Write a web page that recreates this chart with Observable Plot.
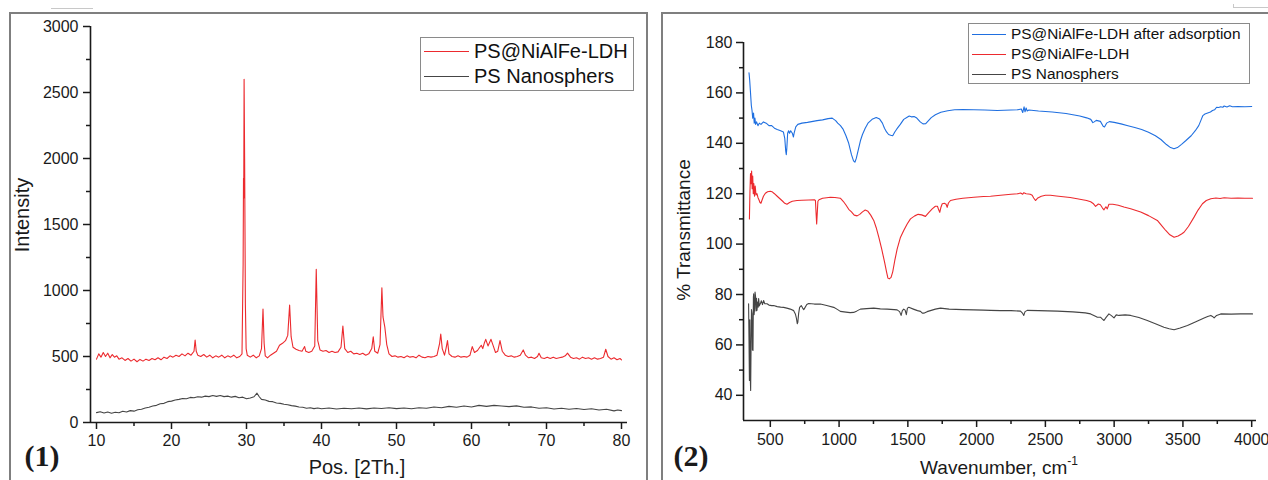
<!DOCTYPE html>
<html>
<head>
<meta charset="utf-8">
<script src="https://cdn.jsdelivr.net/npm/d3@7"></script>
<script src="https://cdn.jsdelivr.net/npm/@observablehq/plot@0.6"></script>
<style>
  body { margin: 0; background: #fff; }
  #wrap { position: relative; width: 1268px; height: 480px; overflow: hidden; background: #fff;
          font-family: "Liberation Sans", Arial, sans-serif; color: #1a1a1a; }
  .frame { position: absolute; border: 2px solid #7f7f7f; box-sizing: border-box; }
  .abs { position: absolute; white-space: nowrap; line-height: 1; }
  .rot { transform: translate(-50%, -50%) rotate(-90deg); }
  .ctr { transform: translate(-50%, -50%); }
  .panel { position: absolute; top: 0; }
  .legend { position: absolute; border: 1px solid #8a8a8a; background: #fff; box-sizing: border-box; }
  .lrow { position: absolute; left: 0; right: 0; height: 0; }
  .lline { position: absolute; height: 0; border-top-width: 1.5px; border-top-style: solid; }
  .ltext { position: absolute; transform: translateY(-50%); white-space: nowrap; line-height: 1; color: #111; }
  .tag { font-family: "Liberation Serif", "Times New Roman", serif; font-weight: bold; font-size: 30px; }
  .art { position: absolute; background: #c8c8c8; }
</style>
</head>
<body>
<div id="wrap">
  <div class="art" style="left:51px;top:8px;width:42px;height:1px;"></div>
  <div class="art" style="left:1233px;top:7px;width:35px;height:1px;"></div>
  <div class="art" style="left:1233px;top:4px;width:1px;height:4px;"></div>
  <div class="frame" style="left:9px;top:12px;width:639px;height:480px;"></div>
  <div class="frame" style="left:661px;top:12px;width:620px;height:480px;"></div>
  <div id="p1" class="panel" style="left:0px;"></div>
  <div id="p2" class="panel" style="left:650px;"></div>
</div>
<script>
// ---------------- XRD (panel 1) ----------------
const xrdSeriesNames = ["PS@NiAlFe-LDH", "PS Nanosphers"];
const xrdColors = ["#ec2a2e", "#454545"];
const xrdXTicks = [10, 20, 30, 40, 50, 60, 70, 80];
const xrdXMinor = [15, 25, 35, 45, 55, 65, 75];
const xrdYTicks = [0, 500, 1000, 1500, 2000, 2500, 3000];
const xrdYMinor = [250, 750, 1250, 1750, 2250, 2750];

const xrdLdhAngle = [10.0,10.3,10.6,10.9,11.2,11.5,11.8,12.1,12.4,12.7,13.0,13.4,13.8,14.2,14.6,15.0,15.4,15.8,16.2,16.6,17.0,17.4,17.8,18.2,18.6,19.0,19.4,19.8,20.2,20.6,21.0,21.4,21.8,22.2,22.6,23.0,23.15,23.3,23.5,23.9,24.3,24.7,25.1,25.5,25.9,26.3,26.7,27.1,27.5,27.9,28.3,28.7,29.1,29.4,29.55,29.6,29.63,29.68,29.75,29.85,29.95,30.1,30.5,30.9,31.3,31.7,32.0,32.2,32.35,32.5,32.8,33.2,33.6,34.0,34.4,34.8,35.2,35.5,35.75,35.95,36.2,36.6,37.0,37.4,37.75,37.9,38.3,38.7,39.1,39.3,39.5,39.8,40.2,40.6,41.0,41.4,41.8,42.2,42.6,42.85,43.1,43.5,43.9,44.3,44.7,45.1,45.5,45.9,46.3,46.7,46.9,47.1,47.5,47.8,48.05,48.2,48.45,48.7,49.0,49.4,49.8,50.2,50.6,51.0,51.4,51.8,52.2,52.6,53.0,53.4,53.8,54.2,54.6,55.0,55.4,55.75,55.9,56.1,56.4,56.6,56.8,57.0,57.4,57.8,58.2,58.6,59.0,59.4,59.8,60.1,60.4,60.8,61.1,61.3,61.5,61.7,61.9,62.2,62.6,62.9,63.2,63.5,63.8,64.1,64.5,64.9,65.3,65.7,66.1,66.5,66.9,67.2,67.6,68.0,68.4,68.8,69.0,69.3,69.7,70.1,70.5,70.9,71.3,71.7,72.1,72.5,72.8,73.2,73.6,74.0,74.4,74.8,75.2,75.6,76.0,76.4,76.8,77.2,77.6,77.9,78.2,78.6,79.0,79.4,79.8,80.0];
const xrdLdhI = [480,520,495,530,500,525,490,515,495,505,480,490,470,485,465,480,460,478,465,480,470,485,475,490,475,495,485,505,495,510,500,520,505,525,510,540,625,540,510,500,515,495,510,490,505,495,510,490,505,495,510,490,500,520,1200,1850,1700,2600,2000,900,560,510,495,510,490,505,560,860,600,505,490,510,525,540,585,600,620,660,890,650,570,555,545,540,575,540,530,540,580,1160,620,550,540,545,530,540,530,535,570,730,560,530,540,520,525,515,525,510,520,560,650,540,525,590,1020,800,720,590,520,500,505,495,500,490,505,495,500,490,510,495,490,500,495,500,510,600,670,560,510,560,620,520,500,495,505,495,500,495,510,575,530,545,570,585,560,600,630,580,630,580,530,540,620,540,510,500,505,495,500,510,550,510,490,495,485,500,525,490,485,495,485,495,485,490,495,505,525,495,485,490,480,495,485,490,480,490,480,485,495,555,500,480,490,475,485,475];

const xrdPsAngle = [10,10.5,11,11.5,12,12.5,13,13.5,14,14.5,15,15.5,16,16.5,17,17.5,18,18.5,19,19.5,20,20.5,21,21.5,22,22.5,23,23.5,24,24.5,25,25.5,26,26.5,27,27.5,28,28.5,29,29.5,30,30.5,31,31.4,31.7,32,32.5,33,33.5,34,34.5,35,35.5,36,36.5,37,37.5,38,38.5,39,39.5,40,41,42,43,44,45,46,47,48,49,50,51,52,53,54,55,56,57,58,59,60,61,62,63,64,65,66,67,68,69,70,71,72,73,74,75,76,77,78,79,79.5,80];
const xrdPsI = [75,82,72,80,70,78,74,85,80,90,86,96,100,110,115,125,130,142,145,158,162,170,175,182,180,190,188,195,192,200,196,204,198,205,196,200,192,198,188,192,180,186,195,222,195,175,170,160,158,148,145,138,135,128,124,118,115,108,112,105,110,104,110,102,108,104,110,103,110,106,112,105,110,104,112,108,118,112,122,115,125,118,130,122,130,125,120,126,115,118,108,112,102,108,100,106,98,104,95,100,88,95,90];

// ---------------- FTIR (panel 2) ----------------
const ftirSeriesNames = ["PS@NiAlFe-LDH after adsorption", "PS@NiAlFe-LDH", "PS Nanosphers"];
const ftirColors = ["#1f6fe0", "#ec2a2e", "#454545"];
const ftirXTicks = [500, 1000, 1500, 2000, 2500, 3000, 3500, 4000];
const ftirXMinor = [750, 1250, 1750, 2250, 2750, 3250, 3750];
const ftirYTicks = [40, 60, 80, 100, 120, 140, 160, 180];
const ftirYMinor = [50, 70, 90, 110, 130, 150, 170];

const ftirAfterWn = [345,350,356,362,367,372,378,383,388,393,400,410,420,432,450,470,490,510,530,550,575,595,605,612,616,620,626,633,640,648,660,668,673,685,700,730,770,800,840,880,920,950,975,990,1010,1030,1050,1070,1090,1105,1115,1125,1140,1155,1170,1190,1210,1240,1270,1295,1315,1330,1345,1360,1375,1390,1405,1420,1445,1470,1495,1510,1525,1545,1565,1590,1610,1630,1650,1670,1700,1740,1790,1840,1900,1980,2060,2150,2250,2300,2325,2335,2345,2352,2360,2368,2380,2450,2550,2650,2750,2800,2830,2845,2855,2870,2900,2920,2930,2945,2965,3000,3050,3100,3150,3200,3250,3300,3340,3380,3410,3435,3460,3490,3520,3560,3590,3615,3630,3645,3660,3680,3700,3715,3730,3745,3760,3775,3790,3800,3820,3840,3860,3900,3950,4000];
const ftirAfterT = [168,165,160,155,153,150,152,148,150,147.5,148.5,147,148,147.5,148.5,148,147,147,146,145.5,145,144.5,142,137,135.5,138,144,145,144,145,144,142.5,144,146.5,147.5,148,148.3,148.6,149,149.3,149.8,150,149,148,147,145.5,143,140,135.5,133,132.5,134,137.5,141,143.5,146,148,149.5,150.2,149.6,148,146,144.5,143.5,143.2,143,144.5,145.7,147.5,149.5,150.3,150.8,150.5,150.6,150,148.5,147.7,147.8,149,150.2,151.3,152.3,152.9,153.3,153.4,153.3,153.2,153,153.2,153.3,153.6,152.2,154.5,152.5,154,152.8,153.2,152.8,152.4,151.8,150.8,150.1,149.5,148.2,148.5,149.1,148.7,146.8,146.5,148,148.6,148.3,147.7,147,146.3,145.5,144.4,143,141.5,139.5,138.3,137.8,138.3,139.6,141,143,145,147,149,151,151.6,152,152.4,153,153.3,154.3,154.2,154.5,154.3,154.8,154.4,154.9,154.5,154.6,154.5,154.6];

const ftirLdhWn = [348,352,356,360,364,368,372,376,380,385,390,396,403,410,418,425,432,440,450,464,480,500,512,530,550,570,590,605,621,640,660,694,730,780,820,828,833,837,841,846,854,880,910,937,970,1009,1030,1050,1070,1090,1110,1131,1150,1170,1190,1210,1230,1252,1270,1290,1310,1330,1345,1355,1365,1378,1390,1405,1422,1445,1470,1495,1519,1550,1575,1600,1628,1650,1677,1700,1715,1725,1732,1740,1750,1765,1778,1786,1795,1810,1850,1900,1980,2050,2101,2174,2250,2300,2320,2335,2343,2360,2390,2404,2415,2428,2445,2470,2500,2537,2580,2630,2680,2731,2770,2800,2829,2850,2865,2885,2900,2915,2926,2940,2950,2962,2990,3030,3071,3120,3193,3250,3314,3350,3375,3405,3436,3465,3490,3508,3540,3581,3610,3642,3670,3703,3740,3770,3800,3850,3900,3950,4006];
const ftirLdhT = [110,121,128,124,129,122,127,120,124,119,123,119.5,120,118.5,117.5,116.5,116.2,117.5,119,120.2,120.8,121,120.8,120,119,118,117,116.2,115.8,116.5,117,117.3,117.4,117.5,117.6,117.3,112,108,112,117,117.6,118.2,118.4,118.6,118.5,118.2,117,115.5,113.8,112.8,111.5,111.2,111.8,112.8,113.5,113,111.5,109.4,106.5,102.5,98,93,89,86.5,86.2,86.8,89,93.5,98,102.5,105.4,108,110,111.2,111.8,111.6,111,112.4,114,115,115,113.5,112.6,114.5,116,116.2,115.8,114.6,116.3,117.3,117.8,118.2,118.6,118.9,119,119.4,119.8,120,120.3,119.8,120.4,120,119.8,119.4,118.3,117.3,118.3,119,119.4,119.4,119.1,118.8,118.5,118,117.6,117.3,116.8,116,115,115.9,115.6,114.3,113.6,114.8,114,115.8,115.8,115.4,114.7,114,112.7,111.3,109.4,107,105.4,103.7,102.7,103.2,104,104.7,107,110.7,113.5,116,117.3,118,118.3,118.1,118.4,118.2,118.3,118.2,118.2];

const ftirPsWn = [342,345,348,351,354,357,360,363,367,370,374,377,379,382,386,389,393,396,400,403,408,412,415,420,427,435,443,451,460,476,490,510,524,550,575,597,620,645,670,682,690,696,700,706,713,725,735,743,752,765,779,820,864,910,961,990,1009,1050,1080,1106,1130,1155,1200,1252,1300,1350,1400,1422,1440,1451,1460,1470,1480,1489,1497,1507,1540,1570,1592,1605,1616,1640,1664,1700,1737,1800,1900,1980,2050,2101,2174,2250,2319,2335,2343,2352,2368,2450,2587,2700,2790,2829,2860,2878,2900,2915,2926,2940,2962,2980,2999,3015,3035,3080,3120,3180,3241,3300,3362,3400,3436,3480,3533,3590,3654,3680,3703,3715,3727,3745,3775,3850,3920,4006];
const ftirPsT = [76.3,62,45.9,70,48,41.9,60,74,72.3,58,57.8,79,80.3,72,74.7,81,79,73.5,78.5,73.7,77,75,78.4,75.5,76.3,77.5,76,77.6,76.3,76.3,75.8,75.6,75.6,75.2,75,74.9,74.6,74.2,73.6,72.3,70.5,68.4,69,72.5,74.9,75.6,74.6,74,74.8,76,76.4,76.2,76.2,75.6,74.9,74,73.3,73,72.8,72.9,73.5,74.2,74.4,74.6,74.3,74.2,74,73.9,73.2,71.7,73.6,74.2,73.8,72,74.6,74.9,74.2,73.6,73.3,72.6,72.6,73.2,73.6,74.2,74.6,74.2,74,73.9,73.8,73.7,73.6,73.6,73.4,72.5,71.7,73.2,73.7,73.6,73.4,73.1,72.7,72.3,71.5,71,71,70.2,69.7,70.8,72.3,71.6,70.7,71.9,71.7,71.9,71.7,70.9,69.7,68.4,67,66.4,66,66.7,67.7,69.1,70.7,71.3,71.7,71.3,70.7,71.7,72.3,72.2,72.3,72.3];

// ---------------- helpers ----------------
const zip = (xs, ys) => xs.map((x, i) => ({x, y: ys[i]}));
const fontStyle = {fontFamily: "'Liberation Sans', Arial, sans-serif", fontSize: "16px", color: "#1a1a1a", background: "transparent", overflow: "visible"};
const axisInk = "#1a1a1a";
const plain = d => String(d);

// ---------------- panel 1 ----------------
const xDom1 = [9.2, 80.8];
const plot1 = Plot.plot({
  width: 640, height: 480,
  marginLeft: 90, marginRight: 13, marginTop: 26, marginBottom: 58,
  x: {domain: xDom1},
  y: {domain: [0, 3000]},
  style: fontStyle,
  marks: [
    Plot.line(zip(xrdPsAngle, xrdPsI), {x: "x", y: "y", stroke: xrdColors[1], strokeWidth: 1.1}),
    Plot.line(zip(xrdLdhAngle, xrdLdhI), {x: "x", y: "y", stroke: xrdColors[0], strokeWidth: 1.1}),
    Plot.axisX({ticks: xrdXTicks, tickFormat: plain, tickSize: 7, tickPadding: 5, label: null, stroke: axisInk, strokeWidth: 1.5, fill: axisInk}),
    Plot.axisX({ticks: xrdXMinor, tickSize: 4, tickFormat: () => "", label: null, stroke: axisInk, strokeWidth: 1.5}),
    Plot.axisY({ticks: xrdYTicks, tickFormat: plain, tickSize: 7, tickPadding: 5, label: null, stroke: axisInk, strokeWidth: 1.5, fill: axisInk}),
    Plot.axisY({ticks: xrdYMinor, tickSize: 4, tickFormat: () => "", label: null, stroke: axisInk, strokeWidth: 1.5}),
    Plot.ruleX([xDom1[0]], {stroke: axisInk, strokeWidth: 1.6}),
    Plot.ruleY([0], {stroke: axisInk, strokeWidth: 1.6})
  ]
});
document.getElementById("p1").appendChild(plot1);

// ---------------- panel 2 ----------------
const xDom2 = [305, 4035];
const plot2 = Plot.plot({
  width: 618, height: 480,
  marginLeft: 93, marginRight: 12, marginTop: 42, marginBottom: 60,
  x: {domain: xDom2},
  y: {domain: [30, 180]},
  style: fontStyle,
  marks: [
    Plot.line(zip(ftirPsWn, ftirPsT), {x: "x", y: "y", stroke: ftirColors[2], strokeWidth: 1.1}),
    Plot.line(zip(ftirLdhWn, ftirLdhT), {x: "x", y: "y", stroke: ftirColors[1], strokeWidth: 1.1}),
    Plot.line(zip(ftirAfterWn, ftirAfterT), {x: "x", y: "y", stroke: ftirColors[0], strokeWidth: 1.1}),
    Plot.axisX({ticks: ftirXTicks, tickFormat: plain, tickSize: 7, tickPadding: 6, label: null, stroke: axisInk, strokeWidth: 1.5, fill: axisInk}),
    Plot.axisX({ticks: ftirXMinor, tickSize: 4, tickFormat: () => "", label: null, stroke: axisInk, strokeWidth: 1.5}),
    Plot.axisY({ticks: ftirYTicks, tickFormat: plain, tickSize: 7, tickPadding: 4, label: null, stroke: axisInk, strokeWidth: 1.5, fill: axisInk}),
    Plot.axisY({ticks: ftirYMinor, tickSize: 4, tickFormat: () => "", label: null, stroke: axisInk, strokeWidth: 1.5}),
    Plot.ruleX([xDom2[0]], {stroke: axisInk, strokeWidth: 1.6}),
    Plot.ruleY([30], {stroke: axisInk, strokeWidth: 1.6})
  ]
});
document.getElementById("p2").appendChild(plot2);

// ---------------- text & legends ----------------
const wrap = document.getElementById("wrap");
function addText(html, x, y, cls, size) {
  const d = document.createElement("div");
  d.className = "abs " + cls;
  d.style.left = x + "px"; d.style.top = y + "px";
  if (size) d.style.fontSize = size + "px";
  d.innerHTML = html;
  wrap.appendChild(d);
}
addText("Intensity", 22, 215, "rot", 20);
addText("Pos. [2Th.]", 357, 467, "ctr", 20);
addText("% Transmittance", 683, 230, "rot", 19);
addText("Wavenumber, cm<sup style='font-size:12px;vertical-align:9px;'>-1</sup>", 999, 466, "ctr", 19);
addText("(1)", 42, 456, "ctr tag", null);
addText("(2)", 691, 456, "ctr tag", null);

function addLegend(names, colors, box, rowY, lineX, textX, size) {
  const lg = document.createElement("div");
  lg.className = "legend";
  lg.style.left = box.x + "px"; lg.style.top = box.y + "px";
  lg.style.width = box.w + "px"; lg.style.height = box.h + "px";
  names.forEach((n, i) => {
    const row = document.createElement("div");
    row.className = "lrow";
    row.style.top = rowY[i] + "px";
    const ln = document.createElement("div");
    ln.className = "lline";
    ln.style.left = lineX[0] + "px"; ln.style.width = (lineX[1] - lineX[0]) + "px";
    ln.style.borderTopColor = colors[i];
    const tx = document.createElement("div");
    tx.className = "ltext";
    tx.style.left = textX + "px"; tx.style.fontSize = size + "px";
    tx.textContent = n;
    row.appendChild(ln); row.appendChild(tx);
    lg.appendChild(row);
  });
  wrap.appendChild(lg);
}
addLegend(xrdSeriesNames, xrdColors, {x: 420, y: 37, w: 214, h: 54}, [13, 38], [3, 48], 53, 20);
addLegend(ftirSeriesNames, ftirColors, {x: 968, y: 23, w: 282, h: 61}, [10, 30, 50], [3, 37], 42, 15.4);
</script>
</body>
</html>
